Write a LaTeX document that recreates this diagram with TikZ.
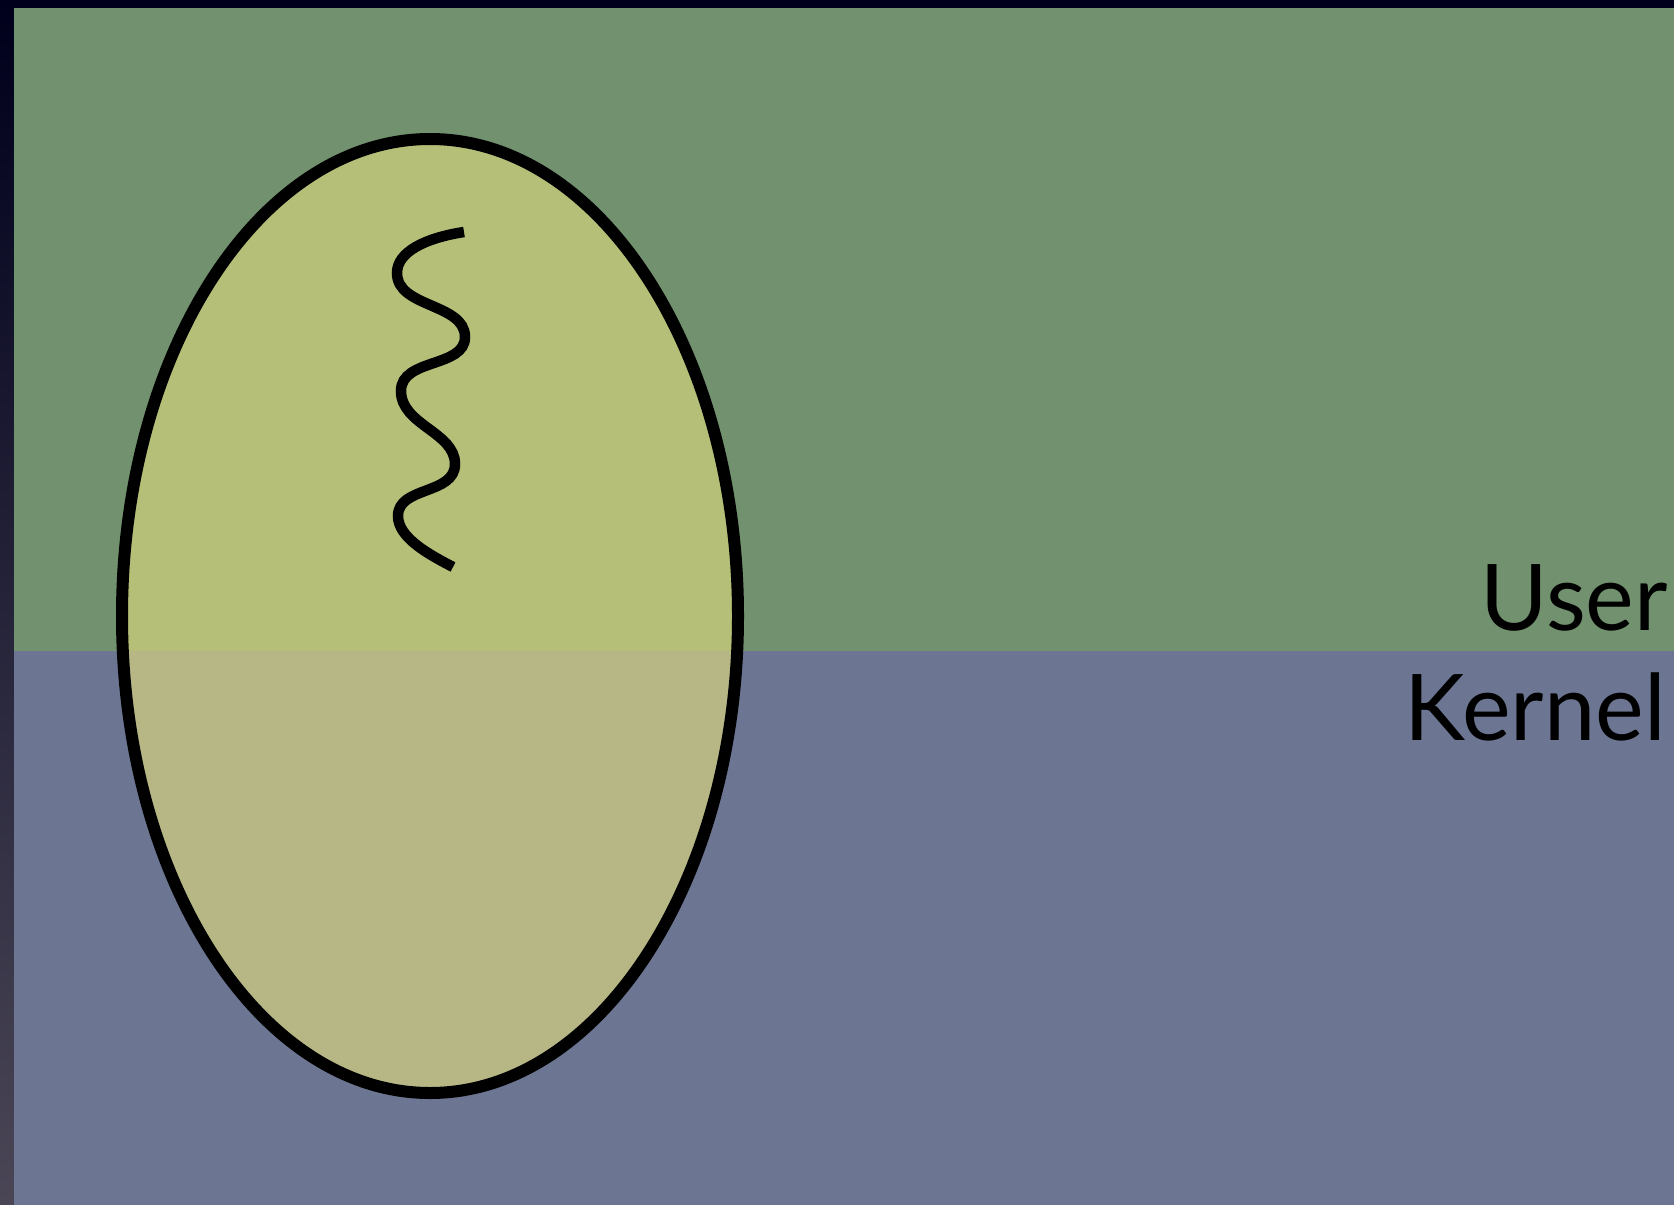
\documentclass[tikz,border=0pt]{standalone}
\usepackage{fontspec}
\usetikzlibrary{shapes.geometric}
\setmainfont{Lato}
\definecolor{frametop}{HTML}{00001C}
\definecolor{framebot}{HTML}{4A4656}
\definecolor{userbg}{HTML}{72916E}
\definecolor{kernelbg}{HTML}{6C7692}
\definecolor{cellup}{HTML}{B6BF78}
\definecolor{celldown}{HTML}{B6B784}
\tikzset{
  lbl/.style={inner sep=0pt, font=\fontsize{92}{100}\selectfont, text=black},
  outline/.style={draw=black, line width=12pt},
  thread/.style={draw=black, line width=10.5pt, line cap=butt}
}
\begin{document}
\begin{tikzpicture}[x=1pt,y=-1pt]
\useasboundingbox (0,0) rectangle (1674,1205);
\shade[top color=frametop, bottom color=framebot] (0,0) rectangle (1674,1205);
\fill[frametop] (0,0) rectangle (1674,8);
\fill[userbg] (14,8) rectangle (1674,651);
\fill[kernelbg] (14,651) rectangle (1674,1205);
\begin{scope}
  \clip (0,0) rectangle (1674,651);
  \fill[cellup] (430,616) ellipse [x radius=308, y radius=477];
\end{scope}
\begin{scope}
  \clip (0,651) rectangle (1674,1205);
  \fill[celldown] (430,616) ellipse [x radius=308, y radius=477];
\end{scope}
\node[outline, ellipse, minimum width=616pt, minimum height=954pt, inner sep=0pt] (proc) at (430,616) {};
\coordinate (t0) at (464,232);
\coordinate (t1) at (397,273);
\coordinate (t2) at (465,337);
\coordinate (t3) at (401,391);
\coordinate (t4) at (455,464);
\coordinate (t5) at (398,516);
\coordinate (t6) at (453,567);
\draw[thread] (t0) .. controls (425,238) and (397,252) .. (t1)
  .. controls (397,308) and (465,303) .. (t2)
  .. controls (465,368) and (401,358) .. (t3)
  .. controls (401,425) and (455,432) .. (t4)
  .. controls (455,495) and (398,486) .. (t5)
  .. controls (398,538) and (430,555) .. (t6);
\node[lbl, anchor=base east] (user) at (1668,630) {User};
\node[lbl, anchor=base east] (kernel) at (1666,740) {Kernel};
\end{tikzpicture}
\end{document}
